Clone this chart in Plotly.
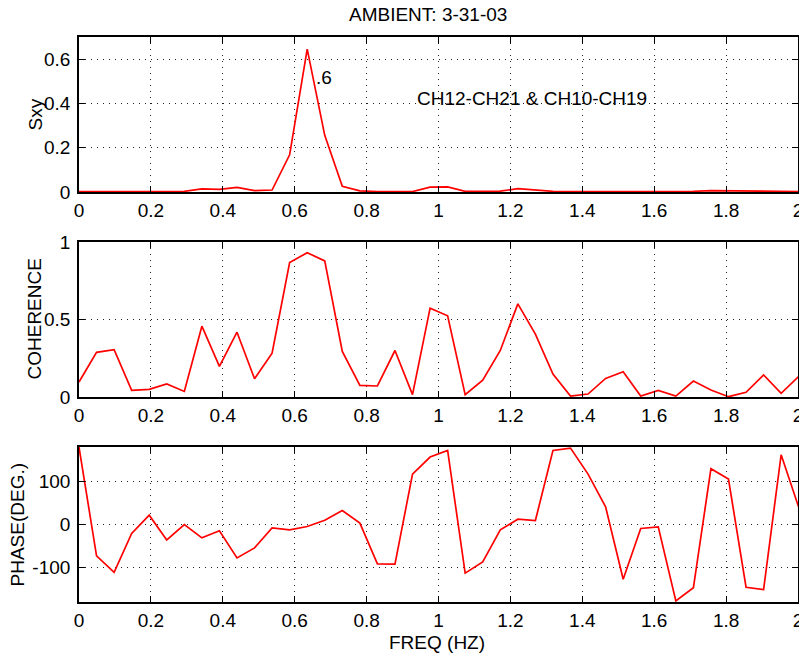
import plotly.graph_objects as go

# Frequency bins (Hz)
freq = [0.0000, 0.0488, 0.0977, 0.1465, 0.1953, 0.2441, 0.2930, 0.3418, 0.3906, 0.4395,
        0.4883, 0.5371, 0.5859, 0.6348, 0.6836, 0.7324, 0.7813, 0.8301, 0.8789, 0.9277,
        0.9766, 1.0254, 1.0742, 1.1230, 1.1719, 1.2207, 1.2695, 1.3184, 1.3672, 1.4160,
        1.4648, 1.5137, 1.5625, 1.6113, 1.6602, 1.7090, 1.7578, 1.8066, 1.8555, 1.9043,
        1.9531, 2.0020]

# Cross-spectrum magnitude
sxy = [0.002, 0.002, 0.003, 0.002, 0.001, 0.002, 0.003, 0.014, 0.012, 0.021,
       0.006, 0.009, 0.168, 0.645, 0.256, 0.026, 0.005, 0.002, 0.003, 0.002,
       0.022, 0.023, 0.003, 0.002, 0.004, 0.015, 0.008, 0.003, 0.002, 0.002,
       0.002, 0.002, 0.002, 0.002, 0.002, 0.003, 0.006, 0.005, 0.006, 0.003,
       0.002, 0.002]

# Coherence
coherence = [0.097, 0.288, 0.305, 0.043, 0.049, 0.084, 0.036, 0.457, 0.197, 0.418,
             0.118, 0.283, 0.867, 0.931, 0.878, 0.294, 0.075, 0.071, 0.300, 0.015,
             0.573, 0.524, 0.015, 0.109, 0.300, 0.601, 0.406, 0.148, 0.006, 0.019,
             0.120, 0.163, 0.006, 0.043, 0.006, 0.103, 0.045, 0.002, 0.030, 0.142,
             0.024, 0.133]

# Phase (degrees)
phase = [179.8, -72.9, -110.9, -20.9, 21.7, -35.7, 0.0, -31.0, -14.7, -77.5,
         -54.3, -7.8, -12.4, -4.7, 10.0, 32.6, 3.1, -91.5, -92.2, 117.0,
         156.6, 172.0, -113.0, -86.8, -12.4, 12.4, 9.3, 172.0, 177.5, 117.0,
         41.0, -127.0, -9.3, -5.4, -177.5, -147.0, 129.5, 105.4, -145.7, -151.0,
         162.0, 40.0]

W, H = 799, 654
X0, X1 = 79, 798
panels = [(37, 192), (242, 397), (447, 602)]  # top/bottom pixel rows of each axes box

FONT = "Liberation Sans, Arial, Helvetica, sans-serif"
FS = 19
RED = "#ff0000"

fig = go.Figure()
series = [sxy, coherence, phase]
for i, ys in enumerate(series):
    fig.add_trace(go.Scatter(
        x=freq, y=ys, mode="lines",
        line=dict(color=RED, width=1.7),
        xaxis="x" if i == 0 else f"x{i+1}",
        yaxis="y" if i == 0 else f"y{i+1}",
        showlegend=False, hoverinfo="skip",
    ))

axis_common = dict(
    showline=True, linecolor="black", linewidth=1.6, mirror="ticks",
    ticks="inside", ticklen=6, tickwidth=1, tickcolor="black",
    showgrid=True, gridcolor="#222222", gridwidth=1, griddash="1px,5px",
    zeroline=False, ticklabeloverflow="allow", automargin=False,
    tickfont=dict(family=FONT, size=FS, color="black"),
)

yranges = [[0, 0.7], [0, 1], [-180, 180]]
yticks = [[0, 0.2, 0.4, 0.6], [0, 0.5, 1], [-100, 0, 100]]
yticktext = [["0", "0.2", "0.4", "0.6"], ["0", "0.5", "1"], ["-100", "0", "100"]]

layout = dict(
    template="none",
    width=W, height=H, margin=dict(l=0, r=0, t=0, b=0, autoexpand=False),
    paper_bgcolor="white", plot_bgcolor="white",
    font=dict(family=FONT, size=FS, color="black"),
)

for i, (top, bot) in enumerate(panels):
    xs = "" if i == 0 else str(i + 1)
    dom_y = [(H - bot) / H, (H - top) / H]
    layout[f"xaxis{xs}"] = dict(
        axis_common, domain=[X0 / W, X1 / W], range=[0, 2],
        tickvals=[0, 0.2, 0.4, 0.6, 0.8, 1, 1.2, 1.4, 1.6, 1.8, 2],
        ticktext=["0", "0.2", "0.4", "0.6", "0.8", "1", "1.2", "1.4", "1.6", "1.8", "2"],
        anchor=f"y{xs}", ticklabelstandoff=0,
    )
    layout[f"yaxis{xs}"] = dict(
        axis_common, domain=dom_y, range=yranges[i],
        tickvals=yticks[i], ticktext=yticktext[i],
        anchor=f"x{xs}", ticklabelstandoff=3,
    )

fig.update_layout(**layout)

ann = []
# Title and x-axis label
ann.append(dict(text="AMBIENT: 3-31-03", x=428 / W, y=1 - 15 / H,
                xref="paper", yref="paper", showarrow=False,
                font=dict(size=FS), xanchor="center", yanchor="middle"))
ann.append(dict(text="FREQ (HZ)", x=437 / W, y=1 - 642 / H,
                xref="paper", yref="paper", showarrow=False,
                font=dict(size=FS), xanchor="center", yanchor="middle"))
# Y-axis labels
for label, px, (top, bot) in [("Sxy", 35, panels[0]), ("COHERENCE", 34, panels[1]),
                              ("PHASE(DEG.)", 17, panels[2])]:
    ann.append(dict(text=label, x=px / W, y=1 - (top + bot) / 2 / H,
                    xref="paper", yref="paper", showarrow=False, textangle=-90,
                    font=dict(size=FS), xanchor="center", yanchor="middle"))
# In-plot notes on the spectrum panel
ann.append(dict(text=".6", x=0.655, y=0.515, xref="x", yref="y", showarrow=False,
                font=dict(size=FS), xanchor="left", yanchor="middle"))
ann.append(dict(text="CH12-CH21 &amp; CH10-CH19", x=0.935, y=0.42, xref="x", yref="y",
                showarrow=False, font=dict(size=FS), xanchor="left", yanchor="middle"))
fig.update_layout(annotations=ann)

fig.write_html("out.html")
